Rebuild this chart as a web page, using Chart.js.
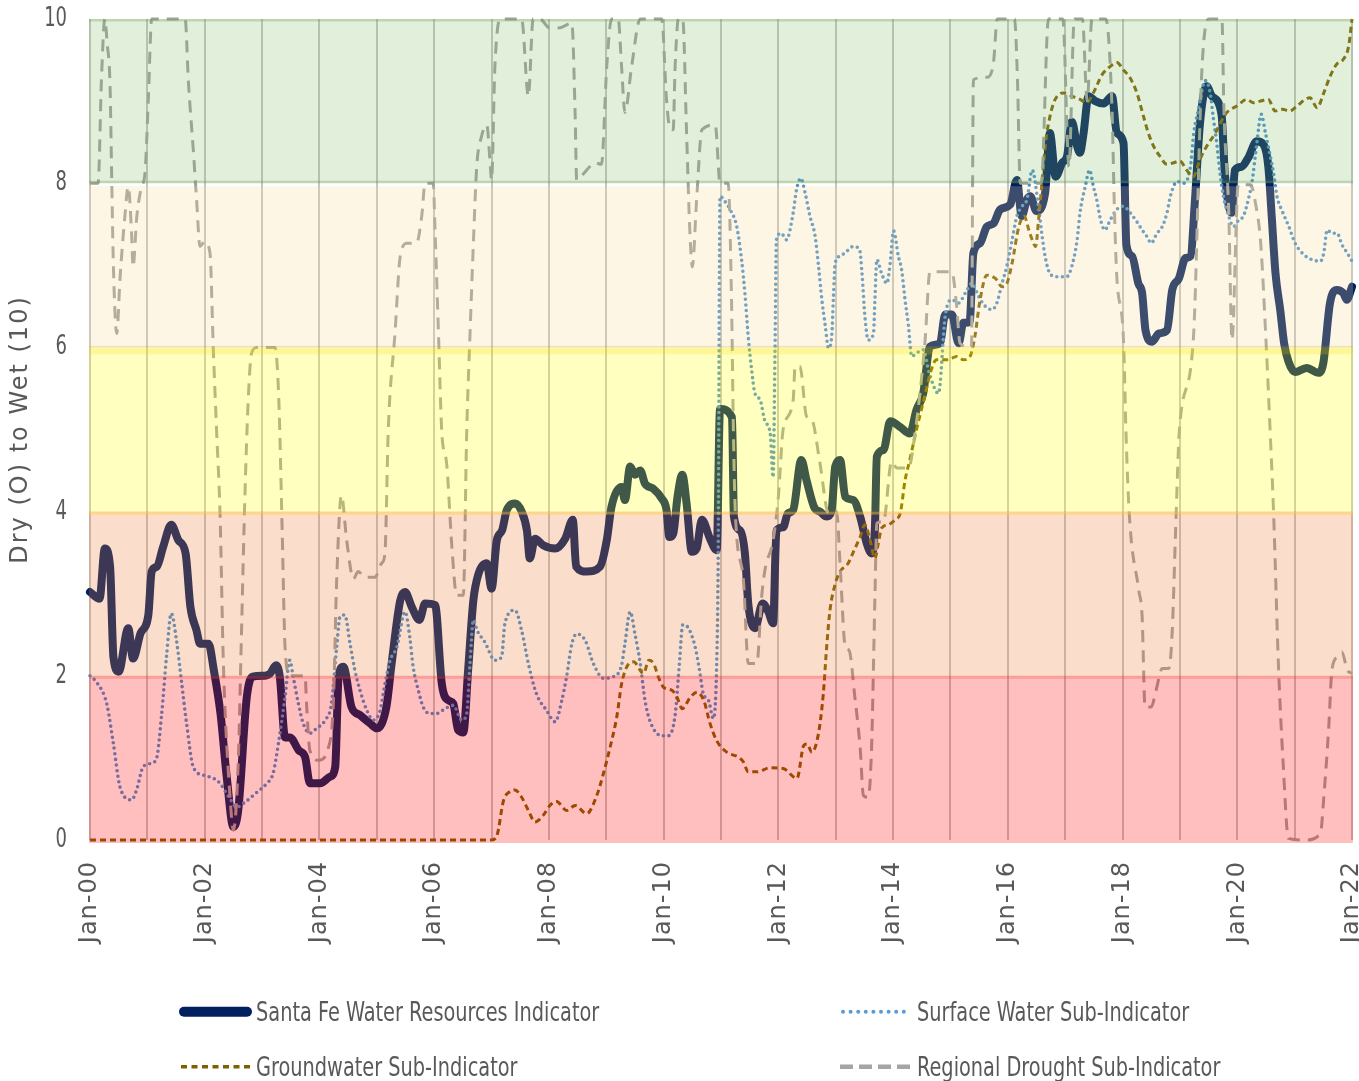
<!DOCTYPE html>
<html><head><meta charset="utf-8">
<script src="https://cdn.jsdelivr.net/npm/chart.js@4"></script>
<style>
html,body{margin:0;padding:0;background:#fff;}
#wrap{position:relative;width:1359px;height:1081px;overflow:hidden;}
#c{position:absolute;left:0;top:0;}
#legsvg{position:absolute;left:0;top:0;}
.legtxt{position:absolute;font-family:"Liberation Sans Narrow","DejaVu Sans Condensed",sans-serif;font-size:27px;line-height:27px;color:#595959;white-space:nowrap;transform-origin:0 50%;}
</style></head>
<body><div id="wrap"><canvas id="c" width="1359" height="1081"></canvas><svg id="legsvg" width="1359" height="1081"></svg></div>
<script>
// ---------------- DATA (x = months since Jan-2000) ----------------
const xTickLabels = ['Jan-00','Jan-02','Jan-04','Jan-06','Jan-08','Jan-10','Jan-12','Jan-14','Jan-16','Jan-18','Jan-20','Jan-22'];
const seriesNames = ['Santa Fe Water Resources Indicator','Surface Water Sub-Indicator','Groundwater Sub-Indicator','Regional Drought Sub-Indicator'];
const yAxisTitle = 'Dry (O) to Wet (10)';

const indicatorMonths = [0,2,3.1,4.2,4.9,6,8,9,10.6,12.2,12.9,14,15.3,17,18.5,20,21,22.3,23,24.8,25.9,27.3,28.6,30,31,32.8,34,36.4,37.7,38.9,39.7,40.8,41.8,43.7,45,46,48.1,50.2,51.3,52,53,54.7,56.5,58.6,60,62,63.1,64.9,65.9,67.3,68.9,70.1,72.2,73.6,75,76,77,78.1,79.1,80.2,81.2,83,84,85.1,86.2,87.2,89,90.3,91.4,92,93.1,94.8,97.3,99.4,101,101.7,103.9,106.7,108.1,109.1,111.2,111.9,113,114,115.1,116.1,117.8,119.6,120.6,121.2,122,122.9,123.9,124.8,125.9,126.9,128,129.7,131.1,131.8,134.3,134.7,136,137,137.7,139.1,140.7,141.9,142.9,143.6,145,146,147.1,148.8,149.9,151.6,152.7,154.1,155.1,155.9,156.9,158,159.7,161.1,162.5,163.5,164.2,164.6,166,167.4,169.5,171.5,172.9,174.3,175.7,177.8,178.9,180.3,181.7,182.7,184,184.8,186.2,187.6,189,190.4,192.5,193.9,194.9,196,196.7,198,199.8,200.8,202,203.4,204.4,205.4,206.5,207.1,207.8,208.9,210.3,212,213.8,214.8,216.2,216.8,218,219.3,220.1,220.8,222.2,223.6,225.3,226.4,227.8,229.2,230.2,231.2,232.2,233.6,234.7,236.7,237.4,238.8,239.5,240.9,242.3,244.1,245.5,246.5,247.2,248,249,249.8,250.7,252.1,254.5,257,258,259.4,260.8,262.2,262.9,264];
const indicatorValues = [3.02,2.94,3.55,3.33,2.23,2.05,2.58,2.21,2.52,2.74,3.27,3.33,3.57,3.84,3.65,3.49,2.84,2.55,2.39,2.39,2.07,1.54,0.77,0.16,0.36,1.74,1.99,2.0,2.03,2.13,1.99,1.25,1.25,1.09,1.01,0.69,0.69,0.77,0.89,1.99,2.11,1.62,1.52,1.42,1.36,1.62,2.15,2.92,3.02,2.84,2.68,2.88,2.86,1.9,1.7,1.66,1.34,1.31,2.07,2.92,3.23,3.37,3.06,3.65,3.77,4.02,4.1,4.0,3.77,3.43,3.67,3.59,3.55,3.67,3.9,3.33,3.27,3.33,3.65,4.06,4.3,4.14,4.55,4.45,4.5,4.34,4.28,4.16,4.02,3.69,3.73,4.18,4.45,4.1,3.51,3.55,3.9,3.67,3.53,5.25,5.15,3.94,3.77,3.49,2.88,2.58,2.88,2.78,2.64,3.77,3.81,3.98,4.02,4.63,4.38,4.04,4.0,3.94,4.0,4.55,4.63,4.18,4.14,3.94,3.61,3.49,3.81,4.67,4.75,5.1,5.03,4.95,5.24,5.44,6.01,6.05,6.4,6.4,6.05,6.3,6.31,7.15,7.27,7.47,7.51,7.68,7.74,8.04,7.6,7.8,7.84,7.66,7.88,8.61,8.08,8.25,8.33,8.75,8.45,8.37,8.59,9.06,9.0,8.97,9.06,8.61,8.49,7.25,7.11,6.78,6.66,6.21,6.07,6.17,6.21,6.7,6.84,7.09,7.11,7.84,8.73,9.18,9.06,8.84,8.12,7.64,8.16,8.2,8.31,8.51,8.47,8.2,7.6,6.9,6.45,6.05,5.83,5.7,5.75,5.69,5.81,6.54,6.7,6.66,6.58,6.74];

const surfaceMonths = [0,1.4,3.5,4.9,6.3,8.7,9.8,11.1,12.6,13.9,15,16,17,18.1,19.2,20.2,21.6,23.7,25.9,27.2,29.3,30.7,32.4,34.9,37,38.3,39.4,40.8,41.8,42.5,43.6,44.6,46,47.4,49.2,50.5,51.6,52.3,53.3,54.4,55.4,56.5,57.9,59.3,60.7,61.7,62.8,64.2,65.9,66.9,67.6,68.7,69.7,71.1,72.5,74.3,76,77.8,78.8,79.5,80.2,81,82.6,84.7,86.1,86.8,88.9,90.3,91.7,93.4,95.5,97.3,98.7,99.7,100.8,101.8,103.6,105.3,107.4,109.5,111.2,111.9,113,114,115.1,116.1,117.2,119.6,121,122.4,123.3,124,125.2,126.6,127.5,128.3,129.4,130.4,131.1,131.4,131.8,132.8,133.9,135.3,136.3,137,137.7,138.4,139.1,140.2,141.2,142.3,142.9,143.3,143.6,144.6,145.7,147.1,147.8,148.7,149.6,150.6,151.7,152.4,153.1,153.8,154.5,155.2,155.5,155.9,156.9,158.3,159.7,161,161.5,162.1,162.8,163.9,164.2,164.6,165.6,166.7,167.4,168.1,169.1,169.8,170.5,171.2,171.9,172.9,174.3,175.5,177.5,178.9,180.3,181.7,183.1,184.5,185.9,187.3,188.7,189.7,190.8,191.8,192.9,193.9,195,196,197.1,198.4,199.1,199.8,200.8,202.2,204.3,205.4,206.5,207.1,208.2,209.1,209.9,210.6,211.3,212.3,213.4,214.8,216.2,217.6,219,220.1,221.1,222,223.2,224.3,225.3,226,227.4,228.8,230.2,230.9,231.9,233.3,234.3,235,235.7,236.4,237.1,238.2,239.2,240.3,241.3,242.3,243.1,244.1,245,245.9,246.9,247.6,248.3,249.4,250.8,252.1,253.9,255.6,257.4,258.1,258.8,259.8,260.9,261.9,263,264];
const surfaceValues = [2.0,1.92,1.66,1.17,0.64,0.49,0.62,0.89,0.93,0.99,1.54,2.23,2.76,2.43,1.9,1.42,0.89,0.79,0.75,0.69,0.5,0.4,0.46,0.58,0.69,0.81,1.17,1.74,2.19,1.99,1.66,1.42,1.3,1.36,1.46,1.66,2.35,2.72,2.74,2.39,2.07,1.82,1.58,1.46,1.58,1.9,2.19,2.35,2.78,2.47,2.11,1.82,1.62,1.54,1.54,1.6,1.64,1.46,1.54,2.15,2.68,2.55,2.41,2.19,2.23,2.64,2.8,2.55,2.15,1.78,1.58,1.44,1.7,1.99,2.39,2.51,2.43,2.15,1.97,1.99,2.13,2.39,2.78,2.51,2.15,1.7,1.44,1.27,1.27,1.52,2.15,2.62,2.58,2.35,2.07,1.78,1.7,1.48,2.15,3.37,7.84,7.78,7.68,7.47,7.07,6.66,6.13,5.73,5.44,5.36,5.1,4.95,4.42,5.97,7.31,7.39,7.31,7.64,7.92,8.06,7.88,7.6,7.35,6.99,6.58,6.27,5.99,6.17,6.58,7.03,7.11,7.17,7.23,7.19,6.9,6.38,6.09,6.17,6.58,7.07,6.9,6.78,7.03,7.42,7.11,6.94,6.58,6.27,5.89,5.93,5.97,5.7,5.44,6.38,6.58,6.54,6.66,6.78,6.62,6.5,6.46,6.54,6.78,6.99,7.31,7.6,7.72,7.8,8.16,7.72,7.39,7.11,6.9,6.86,6.86,6.99,7.31,7.64,7.96,8.16,7.96,7.8,7.58,7.43,7.55,7.68,7.72,7.64,7.53,7.43,7.35,7.27,7.39,7.47,7.64,7.84,8.02,8.0,8.2,8.61,8.9,9.25,9.11,8.79,8.49,8.12,7.84,7.6,7.47,7.55,7.6,7.8,8.02,8.49,8.84,8.61,8.33,8.12,7.84,7.66,7.47,7.27,7.13,7.07,7.05,7.15,7.43,7.39,7.39,7.25,7.15,7.05];

const groundMonths = [0,84,85.1,86.5,87.6,88.9,90.3,91.7,93.1,94.8,96.2,97.6,99.7,101.5,103.9,106,107.4,108.8,110.2,111.2,112.3,113.7,115.8,116.9,117.9,119,120,121.8,122.8,123.9,125.6,127,128.4,129.7,131.1,133.2,135.6,136.7,137.7,139.5,142.3,145,147.9,149.3,150,151,152.4,153.4,154.1,154.8,155.9,156.9,158.6,159.7,161.1,162.1,163.2,164.2,164.9,165.6,167,168.4,169.5,170.5,171.5,172.9,174.6,176,177.1,179.5,181.3,182.7,184.1,185.1,186.2,187.6,189.4,190.8,191.8,192.9,194.3,195.4,196.4,197.1,197.8,198.5,199.2,199.9,200.8,201.9,203.6,205.4,207.1,208.5,209.9,211.7,213.4,214.8,216.2,217.6,219,220.4,221.4,222.5,223.8,225.3,226.7,228,229.4,230.8,232.2,233.6,235.4,236.8,237.8,239.9,242,243.4,244.8,246.5,247.9,249.4,251,252.5,254.2,255.2,256.7,258.1,259.4,260.8,262.2,263.3,264];
const groundValues = [0,0,0.05,0.48,0.58,0.61,0.52,0.36,0.22,0.3,0.42,0.47,0.36,0.42,0.32,0.54,0.81,1.13,1.5,1.9,2.11,2.17,2.03,2.19,2.15,1.97,1.86,1.82,1.74,1.6,1.74,1.8,1.7,1.42,1.21,1.07,1.01,0.95,0.83,0.83,0.88,0.87,0.75,1.15,1.17,1.07,1.3,1.78,2.35,2.8,3.12,3.27,3.37,3.51,3.69,3.84,3.65,3.43,3.61,3.8,3.84,3.9,3.98,4.38,4.63,5.0,5.4,5.73,5.85,5.85,5.89,5.85,5.89,6.13,6.58,6.88,6.84,6.74,6.78,7.03,7.47,7.6,7.43,7.31,7.23,7.6,8.04,8.49,8.81,9.02,9.1,9.06,9.02,8.98,9.1,9.32,9.42,9.47,9.38,9.28,9.1,8.81,8.61,8.45,8.33,8.23,8.25,8.27,8.16,8.08,8.29,8.45,8.61,8.77,8.86,8.94,9.02,8.98,9.0,9.02,8.88,8.9,8.88,8.94,9.02,9.04,8.92,9.1,9.3,9.45,9.51,9.67,10.0];

const droughtMonths = [0,1.7,2.4,3.1,3.6,4.2,4.5,4.9,5.6,6.3,7.3,8,8.7,9,9.8,10.8,11.5,12.2,12.9,19.9,20.6,21.6,22.3,23,24,25.1,25.8,26.5,27.2,27.9,29.3,30,31,31.7,32.4,33.1,33.8,34.9,38.7,39.5,40.2,40.8,41.8,45,45.3,46,47.8,49.9,50.9,51.6,52.6,53.7,55.1,56.1,57.5,59.6,61,61.7,62.4,63.8,64.9,66.3,68.3,69.4,70.1,71.8,72.2,72.9,73.6,74.6,75.7,76.7,78.1,78.8,79.5,80.2,80.9,81.9,83,83.7,84,84.7,85.8,90.3,91.7,92.7,94.1,96.2,98,100.8,101.5,101.8,103.9,105.6,107,108.1,109.1,110.5,111.2,111.9,113.3,115.1,119.6,120.6,121.3,122,122.4,123.1,124,124.8,125.5,126,126.9,128,130.8,131.8,133.5,134.2,134.6,135,136.7,137.7,139.5,140.5,141.2,142.9,144,145,147.1,147.5,148.5,149.9,151,152.7,154.5,156.2,156.9,158,158.8,160,161.1,161.8,162.8,163.5,164.2,164.6,166,167.7,168.8,171.2,172.6,174.7,175.7,180.3,181.3,182,184.4,184.8,187.7,189,189.8,193.4,194,194.6,199,200.5,203.5,204.8,205.9,207.6,208.6,209.6,212.5,213.8,214.3,214.8,216.2,216.7,217.4,219.4,220.1,220.7,222,223,224.3,225.7,226.4,227.1,227.9,230.8,232.6,234,236.8,237.2,238.2,238.9,240.2,242.8,243.8,244.9,246,246.9,247.6,248.6,249.6,250.7,254.2,257.4,258.1,259.1,259.8,260.9,261.9,263,264];
const droughtValues = [8.0,8.0,9.27,10,9.7,9.18,8.2,6.98,6.17,6.86,7.6,7.96,7.39,6.98,7.6,7.96,8.12,9.02,10,10,9.22,8.41,7.8,7.23,7.29,7.15,5.97,4.96,3.98,2.15,0.52,0.12,0.93,2.55,4.18,5.36,5.93,6.0,6.0,5.36,3.77,2.35,2.0,2.0,1.66,1.09,0.97,1.13,1.66,3.16,4.2,3.65,3.18,3.27,3.2,3.2,3.37,3.49,5.0,6.17,7.11,7.27,7.27,7.6,8.0,8.0,7.39,6.17,4.96,4.59,3.57,2.98,2.98,4.96,6.17,7.27,8.2,8.57,8.71,8.25,8.04,9.42,10,10,9.06,10,10,9.89,9.89,9.95,8.81,8.04,8.16,8.25,8.23,9.42,10,10,9.42,8.86,9.42,10,10,9.02,8.67,8.65,9.42,10,10,8.61,7.39,6.98,7.8,8.65,8.71,8.0,8.0,6.58,4.96,3.98,3.16,2.15,2.15,2.96,3.29,3.65,4.18,5.0,5.36,5.77,5.77,5.16,5.12,4.59,3.98,4.0,3.37,2.35,2.31,1.74,1.13,0.54,0.52,1.13,2.96,3.86,3.88,4.61,4.53,4.53,4.96,6.09,6.92,6.92,6.5,6.05,6.0,9.26,9.29,9.47,10,10,9.3,8.0,8.0,10,10,8.2,10,10,9.0,10,10,8.9,7.68,6.86,6.09,5.0,3.98,3.04,2.72,1.62,1.62,1.82,2.09,2.09,2.55,3.77,5.0,6.09,9.38,10,10,8.9,7.68,6.09,7.98,7.98,7.76,7.27,6.09,4.95,3.98,2.15,0.93,0.02,0,0.08,0.52,1.34,2.07,2.23,2.29,2.07,2.03];

// condition bands (value ranges on the y axis)
const bandLows  = [0, 2, 4, 6, 8];
const bandHighs = [2, 4, 6, 8, 10];

// ---------------- STYLES ----------------
const seriesStyles = [
  {color:'#002060', width:8,   dash:[],      cap:'round', order:4},
  {color:'#4A90D0', width:3.6, dash:[0,5.6], cap:'round', order:3},
  {color:'#7F6000', width:3,   dash:[6,4],   cap:'butt',  order:2},
  {color:'#A0A0A0', width:3,   dash:[12,8],  cap:'butt',  order:1}
];
const bandStyles = [
  {fill:'rgba(255,0,0,0.25)',     top:'rgba(235,80,60,0.30)',  topW:3, padBottom:3},
  {fill:'rgba(237,125,49,0.25)',  top:'rgba(255,205,60,0.45)', topW:3},
  {fill:'rgba(255,255,0,0.25)',   top:'rgba(250,215,0,0.20)',  topW:7},
  {fill:'rgba(247,217,147,0.24)', top:null, topW:0, topGap:3, bottom:'rgba(170,140,90,0.22)', bottomW:1.5},
  {fill:'rgba(134,188,101,0.24)', top:'rgba(110,150,80,0.30)', topW:2.5, bottom:'rgba(110,150,80,0.30)', bottomW:2.5}
];
const TXT = '#595959';
const NARROW = '"Liberation Sans Narrow","DejaVu Sans Condensed",sans-serif';
const WIDE = '"DejaVu Sans",Verdana,sans-serif';

const toPoints = (xs, ys) => xs.map((x, i) => ({x: x, y: ys[i]}));
const seriesData = [
  toPoints(indicatorMonths, indicatorValues),
  toPoints(surfaceMonths, surfaceValues),
  toPoints(groundMonths, groundValues),
  toPoints(droughtMonths, droughtValues)
];

const bandsPlugin = {
  id: 'bands',
  afterDatasetsDraw(chart) {
    const {ctx, chartArea: a, scales: {y}} = chart;
    ctx.save();
    const l = a.left - 1, w = a.right - a.left + 2;
    for (let i = bandLows.length - 1; i >= 0; i--) {
      const s = bandStyles[i];
      const top = y.getPixelForValue(bandHighs[i]) + (s.topGap || 0);
      const bot = y.getPixelForValue(bandLows[i]) + (s.padBottom || 0);
      ctx.fillStyle = s.fill;
      ctx.fillRect(l, top, w, bot - top);
      if (s.bottom) { ctx.fillStyle = s.bottom; ctx.fillRect(l, bot - s.bottomW, w, s.bottomW); }
      if (s.top) { ctx.fillStyle = s.top; ctx.fillRect(l, top, w, s.topW); }
    }
    ctx.restore();
  }
};

const TICK_SQUEEZE = 0.74;
const spacingPlugin = {
  id: 'spacing',
  beforeDraw(chart) {
    const xs = chart.scales.x, ys = chart.scales.y;
    if (!xs._lsPatched) {
      const o = xs.drawLabels;
      xs.drawLabels = function (ca) { const c = this.ctx; c.save(); c.letterSpacing = '1px'; o.call(this, ca); c.restore(); };
      xs._lsPatched = true;
    }
    if (!ys._lsPatched) {
      const o2 = ys.drawTitle;
      ys.drawTitle = function () { const c = this.ctx; c.save(); c.letterSpacing = '2px'; o2.call(this); c.restore(); };
      const o3 = ys.drawLabels;
      ys.drawLabels = function (ca) {
        const c = this.ctx; const ax = this.right - this.options.ticks.padding;
        c.save(); c.translate(ax, 0); c.scale(TICK_SQUEEZE, 1); c.translate(-ax, 0);
        o3.call(this, ca); c.restore();
      };
      ys._lsPatched = true;
    }
  }
};

new Chart(document.getElementById('c'), {
  type: 'line',
  data: {
    datasets: seriesNames.map((name, i) => ({
      label: name,
      data: seriesData[i],
      borderColor: seriesStyles[i].color,
      backgroundColor: seriesStyles[i].color,
      borderWidth: seriesStyles[i].width,
      borderDash: seriesStyles[i].dash,
      borderCapStyle: seriesStyles[i].cap,
      borderJoinStyle: 'round',
      pointRadius: 0,
      fill: false,
      clip: 8,
      cubicInterpolationMode: 'monotone',
      order: seriesStyles[i].order
    }))
  },
  options: {
    responsive: false,
    animation: false,
    layout: {autoPadding: false, padding: {left: 0, right: 7, top: 19, bottom: 0}},
    plugins: {legend: {display: false}, tooltip: {enabled: false}},
    scales: {
      x: {
        type: 'linear', min: 0, max: 264,
        border: {display: false},
        grid: {color: '#C4C4C4', lineWidth: 2, drawTicks: false},
        ticks: {
          stepSize: 12, autoSkip: false, minRotation: 90, maxRotation: 90, padding: 21,
          color: TXT, font: {family: WIDE, size: 24},
          callback: (v) => (v % 24 === 0 ? xTickLabels[v / 24] : '')
        },
        afterFit: (s) => { s.height = 241; s.paddingLeft = 0; s.paddingRight = 0; }
      },
      y: {
        min: 0, max: 10,
        border: {display: false},
        grid: {display: false, drawTicks: false},
        ticks: {stepSize: 2, padding: 23, color: TXT, font: {family: NARROW, size: 27}},
        title: {display: true, text: yAxisTitle, color: TXT, font: {family: WIDE, size: 24}, padding: {top: 6, bottom: 0}},
        afterFit: (s) => { s.width = 90; s.paddingTop = 0; s.paddingBottom = 0; }
      }
    }
  },
  plugins: [bandsPlugin, spacingPlugin]
});

// ---------------- HTML legend (2 x 2 grid) ----------------
const legendCells = [[179, 1011.7], [840, 1011.7], [179, 1066.7], [840, 1066.7]];
const legendMarkers = [
  {w: 10,  dash: '',      cap: 'round', x1: 5, x2: 68},
  {w: 4,   dash: '0 7.6', cap: 'round', x1: 3, x2: 70},
  {w: 3.5, dash: '6 4.5', cap: 'butt',  x1: 2, x2: 72},
  {w: 4.5, dash: '13 6',  cap: 'butt',  x1: 0, x2: 70}
];
const legendColors = ['#002060', '#5B9BD5', '#7F6000', '#A5A5A5'];
const svg = document.getElementById('legsvg');
const NS = 'http://www.w3.org/2000/svg';
const wrap = document.getElementById('wrap');
const texts = [];
seriesNames.forEach((name, i) => {
  const [cx, cy] = legendCells[i];
  const m = legendMarkers[i];
  const ln = document.createElementNS(NS, 'line');
  ln.setAttribute('x1', cx + m.x1); ln.setAttribute('x2', cx + m.x2);
  ln.setAttribute('y1', cy); ln.setAttribute('y2', cy);
  ln.setAttribute('stroke', legendColors[i]);
  ln.setAttribute('stroke-width', m.w);
  ln.setAttribute('stroke-linecap', m.cap);
  if (m.dash) ln.setAttribute('stroke-dasharray', m.dash);
  svg.appendChild(ln);
  const t = document.createElement('div');
  t.className = 'legtxt';
  t.textContent = name;
  t.style.left = (cx + 77) + 'px';
  t.style.top = (cy - 13.5) + 'px';
  wrap.appendChild(t);
  texts.push(t);
});
// squeeze the legend text horizontally so it matches the narrow face of the original
const k = Math.min(1, 343 / texts[0].offsetWidth);
texts.forEach(t => { t.style.transform = 'scaleX(' + k.toFixed(3) + ')'; });
</script>
</body></html>
